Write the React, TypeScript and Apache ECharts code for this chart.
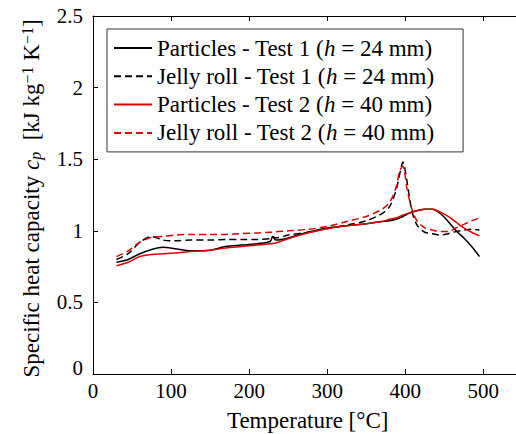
import React, { useEffect, useRef } from 'react';
import * as echarts from 'echarts';

const temperatures = [30, 45, 60, 75, 90, 105, 125, 150, 170, 190, 210, 227, 230, 234, 250, 275, 300, 325, 350, 370, 380, 388, 393, 397, 402, 408, 415, 425, 435, 445, 455, 465, 475, 485, 495];

const particlesTest1 = [0.78, 0.8, 0.84, 0.87, 0.885, 0.875, 0.86, 0.865, 0.89, 0.9, 0.91, 0.925, 0.96, 0.935, 0.95, 0.99, 1.02, 1.035, 1.05, 1.065, 1.07, 1.08, 1.09, 1.1, 1.115, 1.13, 1.14, 1.15, 1.15, 1.12, 1.065, 1.0, 0.95, 0.89, 0.82];
const jellyTest1 = [0.8, 0.84, 0.92, 0.96, 0.935, 0.93, 0.935, 0.935, 0.94, 0.94, 0.94, 0.945, 0.96, 0.95, 0.97, 0.99, 1.015, 1.04, 1.07, 1.12, 1.17, 1.28, 1.4, 1.48, 1.35, 1.15, 1.04, 0.99, 0.98, 0.97, 0.98, 0.995, 1.005, 1.01, 1.005];
const particlesTest2 = [0.755, 0.78, 0.82, 0.835, 0.84, 0.845, 0.855, 0.865, 0.88, 0.89, 0.9, 0.91, 0.912, 0.915, 0.945, 0.985, 1.015, 1.035, 1.05, 1.065, 1.08, 1.09, 1.1, 1.11, 1.12, 1.13, 1.14, 1.15, 1.15, 1.13, 1.1, 1.06, 1.02, 0.99, 0.965];
const jellyTest2 = [0.82, 0.86, 0.92, 0.955, 0.96, 0.97, 0.975, 0.975, 0.975, 0.98, 0.985, 0.99, 0.99, 0.993, 1.0, 1.01, 1.03, 1.065, 1.1, 1.15, 1.2, 1.3, 1.42, 1.45, 1.3, 1.16, 1.07, 1.02, 1.005, 0.995, 0.995, 1.02, 1.045, 1.07, 1.09];

const seriesNames = [
  'Particles - Test 1 (h = 24 mm)',
  'Jelly roll - Test 1 (h = 24 mm)',
  'Particles - Test 2 (h = 40 mm)',
  'Jelly roll - Test 2 (h = 40 mm)',
];
const legendRich = [
  '{n|Particles - Test 1 (}{i|h}{n| = 24 mm)}',
  '{n|Jelly roll - Test 1 (}{i|h}{n| = 24 mm)}',
  '{n|Particles - Test 2 (}{i|h}{n| = 40 mm)}',
  '{n|Jelly roll - Test 2 (}{i|h}{n| = 40 mm)}',
];
const xTicks = [0, 100, 200, 300, 400, 500];
const yTicks = [0, 0.5, 1, 1.5, 2, 2.5];

const FONT = 'Liberation Serif';
const RED = '#e00000';

export default function App() {
  const ref = useRef<HTMLDivElement>(null);
  useEffect(() => {
    if (!ref.current) return;
    const chart = echarts.init(ref.current, undefined, { renderer: 'svg' });
    const pair = (vals: number[]) => temperatures.map((t, i) => [t, vals[i]]);
    const colors = ['#000000', '#000000', RED, RED];
    const dashed = [false, true, false, true];
    const values = [particlesTest1, jellyTest1, particlesTest2, jellyTest2];
    const axisCommon = {
      axisLine: { show: true, lineStyle: { color: '#000', width: 1 } },
      axisTick: { show: true, inside: true, length: 5, lineStyle: { color: '#000' } },
      splitLine: { show: false },
    };
    const txt = (size: number) => ({ fontFamily: FONT, fontSize: size, color: '#000' });
    chart.setOption({
      animation: false,
      textStyle: { fontFamily: FONT },
      grid: { left: 93, top: 16, width: 429.4, height: 358, containLabel: false, outerBoundsMode: 'none' },
      legend: {
        show: true,
        orient: 'vertical',
        left: 107,
        top: 29,
        padding: [7.5, 29, 7.5, 6],
        itemWidth: 38,
        itemHeight: 14,
        itemGap: 5.3,
        borderColor: '#333',
        borderWidth: 1,
        backgroundColor: '#fff',
        data: seriesNames,
        itemStyle: { opacity: 0, color: 'rgba(0,0,0,0)', borderWidth: 0 },
        formatter: (name: string) => legendRich[seriesNames.indexOf(name)],
        textStyle: {
          ...txt(23),
          lineHeight: 23,
          rich: {
            n: { ...txt(23), lineHeight: 23 },
            i: { ...txt(23), lineHeight: 23, fontStyle: 'italic' },
          },
        },
      },
      xAxis: [
        {
          type: 'value',
          min: xTicks[0],
          max: 550,
          interval: 100,
          position: 'bottom',
          ...axisCommon,
          axisLabel: { show: true, ...txt(21), margin: 6, showMaxLabel: false },
          name: 'Temperature [°C]',
          nameLocation: 'middle',
          nameGap: 35,
          nameTextStyle: { ...txt(23) },
        },
        {
          type: 'value',
          min: xTicks[0],
          max: 550,
          interval: 100,
          position: 'top',
          ...axisCommon,
          axisLabel: { show: false },
        },
      ],
      yAxis: {
        type: 'value',
        min: yTicks[0],
        max: yTicks[yTicks.length - 1],
        interval: 0.5,
        ...axisCommon,
        axisLabel: {
          show: true,
          ...txt(21),
          margin: 10,
          formatter: (v: number) => (v === 0 ? '{z|0}' : String(v)),
          rich: { z: { ...txt(21), padding: [0, 0, 12, 0] } },
        },
        name: '{n|Specific heat capacity }{i|c}{sub|p}{n|  [kJ kg}{sup|−1}{n| K}{sup|−1}{n|]}',
        nameLocation: 'middle',
        nameRotate: 90,
        nameGap: 50,
        nameTextStyle: {
          ...txt(23),
          padding: [0, 7, 0, 0],
          rich: {
            n: { ...txt(23) },
            i: { ...txt(23), fontStyle: 'italic' },
            sub: { ...txt(16), fontStyle: 'italic', verticalAlign: 'bottom', padding: [8, 0, 0, 0] },
            sup: { ...txt(16), verticalAlign: 'top', padding: [0, 0, 8, 0] },
          },
        },
      },
      series: seriesNames.map((name, k) => ({
        name,
        type: 'line',
        xAxisIndex: 0,
        data: pair(values[k]),
        symbol: 'none',
        showSymbol: false,
        smooth: 0.3,
        lineStyle: { color: colors[k], width: 1.5, type: dashed[k] ? [7, 4] : 'solid' },
        itemStyle: { color: colors[k] },
        z: 2 + k,
      })),
    });
    return () => chart.dispose();
  }, []);
  return <div ref={ref} style={{ width: 516, height: 434, position: 'absolute', left: 0, top: 0 }} />;
}
